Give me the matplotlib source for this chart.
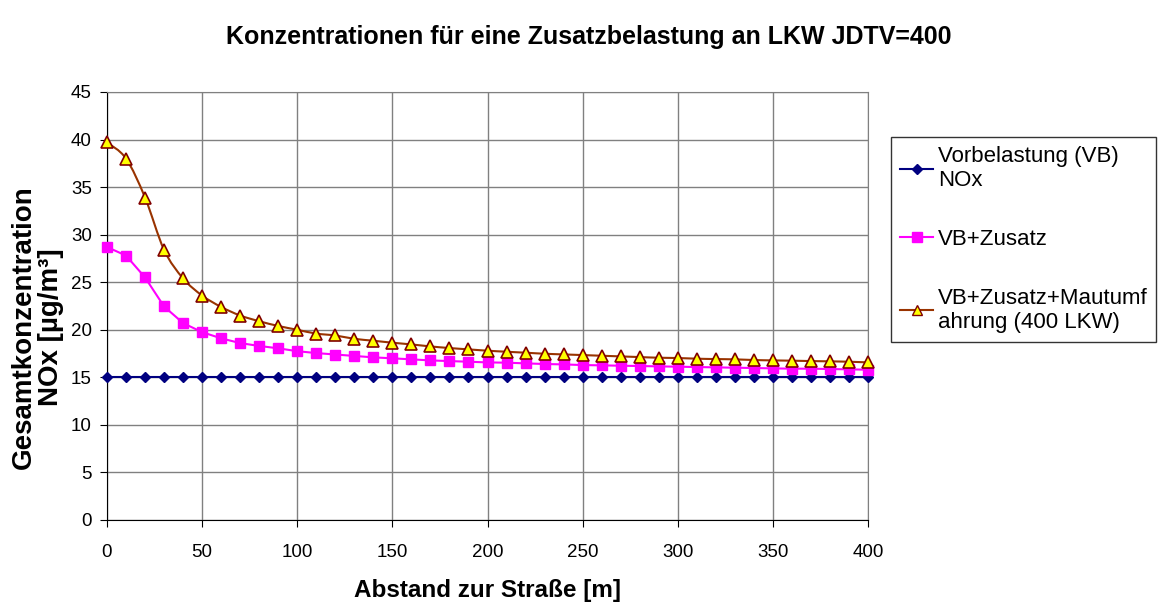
import numpy as np
import matplotlib
matplotlib.use('Agg')
import matplotlib.pyplot as plt
from matplotlib.path import Path
from matplotlib.patches import PathPatch
from matplotlib.lines import Line2D

plt.rcParams['font.family'] = ['Liberation Sans', 'DejaVu Sans']

# Daten
abstand = [0, 10, 20, 30, 40, 50, 60, 70, 80, 90, 100, 110, 120, 130, 140,
           150, 160, 170, 180, 190, 200, 210, 220, 230, 240, 250, 260, 270,
           280, 290, 300, 310, 320, 330, 340, 350, 360, 370, 380, 390, 400]
vorbelastung = [15.0, 15.0, 15.0, 15.0, 15.0, 15.0, 15.0, 15.0, 15.0, 15.0,
                15.0, 15.0, 15.0, 15.0, 15.0, 15.0, 15.0, 15.0, 15.0, 15.0,
                15.0, 15.0, 15.0, 15.0, 15.0, 15.0, 15.0, 15.0, 15.0, 15.0,
                15.0, 15.0, 15.0, 15.0, 15.0, 15.0, 15.0, 15.0, 15.0, 15.0,
                15.0]
vb_zusatz = [28.7, 27.8, 25.5, 22.45, 20.7, 19.75, 19.1, 18.6, 18.3, 18.05,
             17.75, 17.55, 17.4, 17.25, 17.1, 17.0, 16.89, 16.78, 16.71, 16.64,
             16.57, 16.54, 16.47, 16.40, 16.36, 16.29, 16.26, 16.22, 16.19, 16.15,
             16.12, 16.08, 16.05, 16.01, 15.98, 15.94, 15.91, 15.91, 15.87, 15.84,
             15.80]
vb_maut = [39.7, 38.0, 33.9, 28.4, 25.4, 23.6, 22.4, 21.5, 20.9, 20.4,
           20.0, 19.6, 19.4, 19.05, 18.85, 18.64, 18.46, 18.25, 18.08, 17.94,
           17.80, 17.69, 17.59, 17.48, 17.41, 17.34, 17.27, 17.20, 17.13, 17.06,
           17.03, 16.96, 16.92, 16.89, 16.82, 16.78, 16.75, 16.71, 16.68, 16.64,
           16.57]
labels = ['Vorbelastung (VB)\nNOx', 'VB+Zusatz', 'VB+Zusatz+Mautumf\nahrung (400 LKW)']


def smooth_path(x, y):
    """Geglaettete Linie wie in Excel (Bezier durch die Datenpunkte)"""
    pts = np.column_stack([x, y]).astype(float)
    n = len(pts)
    verts = [pts[0]]
    codes = [Path.MOVETO]
    for i in range(n - 1):
        p0 = pts[i - 1] if i > 0 else pts[i]
        p1 = pts[i]
        p2 = pts[i + 1]
        p3 = pts[i + 2] if i + 2 < n else pts[i + 1]
        verts += [p1 + (p2 - p0) / 6, p2 - (p3 - p1) / 6, p2]
        codes += [Path.CURVE4] * 3
    return Path(verts, codes)


fig = plt.figure(figsize=(11.62, 6.02), dpi=100)
fig.patch.set_facecolor('white')
ax = fig.add_axes([107 / 1162, 1 - 520 / 602, 761 / 1162, 428 / 602])

c_vb = '#000080'
c_zus = '#FF00FF'
c_maut = '#993300'

ax.plot(abstand, vorbelastung, color=c_vb, lw=1.5, marker='D', ms=5.5,
        mfc=c_vb, mec=c_vb, clip_on=False, zorder=3)
ax.plot(abstand, vb_zusatz, color=c_zus, lw=1.5, marker='s', ms=7.5,
        mfc=c_zus, mec=c_zus, clip_on=False, zorder=3)
ax.add_patch(PathPatch(smooth_path(abstand, vb_maut), fill=False,
                       edgecolor=c_maut, lw=1.5, zorder=3))
ax.plot(abstand, vb_maut, linestyle='none', marker='^', ms=8,
        mfc='#FFFF00', mec='#800000', mew=1.2, clip_on=False, zorder=4)

ax.set_xlim(0, 400)
ax.set_ylim(0, 45)
ax.set_xticks(range(0, 401, 50))
ax.set_yticks(range(0, 46, 5))
ax.grid(True, color='#808080', lw=1)
ax.set_axisbelow(True)
for s in ['top', 'right']:
    ax.spines[s].set_color('#808080')
for s in ['left', 'bottom']:
    ax.spines[s].set_color('black')
ax.tick_params(direction='out', length=5, labelsize=13.5)
ax.tick_params(axis='x', pad=12)
ax.tick_params(axis='y', pad=6)

ax.set_xlabel('Abstand zur Straße [m]', fontsize=17.5, fontweight='bold', labelpad=13)
ax.set_ylabel('Gesamtkonzentration\nNOx [µg/m³]', fontsize=20, fontweight='bold',
              linespacing=1.05)
ax.yaxis.set_label_coords(-0.057, 0.45)

fig.text(0.507, 1 - 37 / 602, 'Konzentrationen für eine Zusatzbelastung an LKW JDTV=400',
         ha='center', va='center', fontsize=18, fontweight='bold')

handles = [
    Line2D([], [], color=c_vb, lw=1.5, marker='D', ms=5, mfc=c_vb, mec=c_vb),
    Line2D([], [], color=c_zus, lw=1.5, marker='s', ms=7, mfc=c_zus, mec=c_zus),
    Line2D([], [], color=c_maut, lw=1.5, marker='^', ms=7, mfc='#FFFF00',
           mec='#800000'),
]
leg = fig.legend(handles, labels, loc='upper left',
                 bbox_to_anchor=(891 / 1162, 1 - 137 / 602), borderaxespad=0,
                 fontsize=16, frameon=True, fancybox=False, edgecolor='black',
                 handlelength=1.5, handletextpad=0.2, labelspacing=1.7,
                 borderpad=0.4)
leg.get_frame().set_linewidth(1)

fig.savefig('out.png', dpi=100)
